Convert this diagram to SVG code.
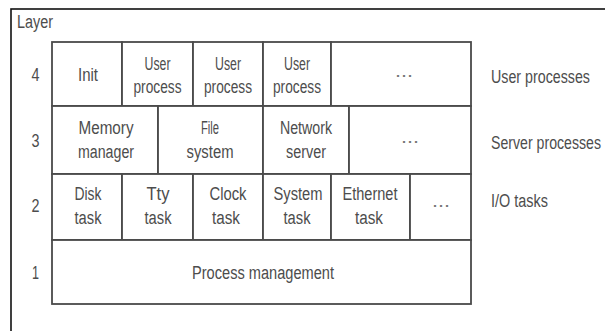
<svg xmlns="http://www.w3.org/2000/svg" width="605" height="331" viewBox="0 0 605 331">
<style>
  .frame { fill: none; stroke: #111; stroke-width: 1.6; }
  .cell { fill: #fff; stroke: #4a4a4a; stroke-width: 1.8; }
  text { font-family: "Liberation Sans Narrow", "Liberation Sans", Arial, sans-serif; font-size: 18px; fill: #4d4d4d; }
  .c { text-anchor: middle; }
  .dots { fill: #777; }
  .side { font-size: 14px; }
</style>
<rect width="605" height="331" fill="#fff"/>
<rect class="frame" x="11" y="9" width="610" height="340"/>
<text x="17" y="28" textLength="36" lengthAdjust="spacingAndGlyphs">Layer</text>

<g id="layer-numbers">
  <text class="c" x="35.5" y="81" textLength="8" lengthAdjust="spacingAndGlyphs">4</text>
  <text class="c" x="35.5" y="147" textLength="8" lengthAdjust="spacingAndGlyphs">3</text>
  <text class="c" x="35.5" y="212" textLength="8" lengthAdjust="spacingAndGlyphs">2</text>
  <text class="c" x="35.5" y="279" textLength="7" lengthAdjust="spacingAndGlyphs">1</text>
</g>

<g id="layer-names">
  <text class="side" transform="translate(491,83) scale(1,1.285)" x="0" y="0" textLength="99" lengthAdjust="spacingAndGlyphs">User processes</text>
  <text class="side" transform="translate(491,149) scale(1,1.285)" x="0" y="0" textLength="110" lengthAdjust="spacingAndGlyphs">Server processes</text>
  <text class="side" transform="translate(491,207) scale(1,1.285)" x="0" y="0" textLength="57" lengthAdjust="spacingAndGlyphs">I/O tasks</text>
</g>

<!-- Layer 4 -->
<g id="init">
  <rect class="cell" x="52" y="42" width="70" height="64"/>
  <text class="c" x="88" y="81" textLength="20" lengthAdjust="spacingAndGlyphs">Init</text>
</g>
<g id="user-process-1">
  <rect class="cell" x="122" y="42" width="71" height="64"/>
  <text class="c" x="157.5" y="70" textLength="26" lengthAdjust="spacingAndGlyphs">User</text>
  <text class="c" x="157.5" y="93" textLength="48" lengthAdjust="spacingAndGlyphs">process</text>
</g>
<g id="user-process-2">
  <rect class="cell" x="193" y="42" width="70" height="64"/>
  <text class="c" x="228" y="70" textLength="26" lengthAdjust="spacingAndGlyphs">User</text>
  <text class="c" x="228" y="93" textLength="48" lengthAdjust="spacingAndGlyphs">process</text>
</g>
<g id="user-process-3">
  <rect class="cell" x="263" y="42" width="68" height="64"/>
  <text class="c" x="297" y="70" textLength="26" lengthAdjust="spacingAndGlyphs">User</text>
  <text class="c" x="297" y="93" textLength="48" lengthAdjust="spacingAndGlyphs">process</text>
</g>
<g id="user-more">
  <rect class="cell" x="331" y="42" width="140" height="64"/>
  <text class="c dots" x="404" y="77" textLength="18" lengthAdjust="spacingAndGlyphs">...</text>
</g>

<!-- Layer 3 -->
<g id="memory-manager">
  <rect class="cell" x="52" y="106" width="106" height="68"/>
  <text class="c" x="106" y="134" textLength="55" lengthAdjust="spacingAndGlyphs">Memory</text>
  <text class="c" x="106" y="158" textLength="56" lengthAdjust="spacingAndGlyphs">manager</text>
</g>
<g id="file-system">
  <rect class="cell" x="158" y="106" width="105" height="68"/>
  <text class="c" x="210" y="134" textLength="18" lengthAdjust="spacingAndGlyphs">File</text>
  <text class="c" x="210" y="158" textLength="47" lengthAdjust="spacingAndGlyphs">system</text>
</g>
<g id="network-server">
  <rect class="cell" x="263" y="106" width="86" height="68"/>
  <text class="c" x="306" y="134" textLength="52" lengthAdjust="spacingAndGlyphs">Network</text>
  <text class="c" x="306" y="158" textLength="40" lengthAdjust="spacingAndGlyphs">server</text>
</g>
<g id="server-more">
  <rect class="cell" x="349" y="106" width="122" height="68"/>
  <text class="c dots" x="410" y="143" textLength="18" lengthAdjust="spacingAndGlyphs">...</text>
</g>

<!-- Layer 2 -->
<g id="disk-task">
  <rect class="cell" x="52" y="174" width="70" height="66"/>
  <text class="c" x="88" y="200" textLength="27" lengthAdjust="spacingAndGlyphs">Disk</text>
  <text class="c" x="88" y="224" textLength="27" lengthAdjust="spacingAndGlyphs">task</text>
</g>
<g id="tty-task">
  <rect class="cell" x="122" y="174" width="71" height="66"/>
  <text class="c" x="158" y="200" textLength="23" lengthAdjust="spacingAndGlyphs">Tty</text>
  <text class="c" x="158" y="224" textLength="27" lengthAdjust="spacingAndGlyphs">task</text>
</g>
<g id="clock-task">
  <rect class="cell" x="193" y="174" width="70" height="66"/>
  <text class="c" x="228" y="200" textLength="37" lengthAdjust="spacingAndGlyphs">Clock</text>
  <text class="c" x="226" y="224" textLength="28" lengthAdjust="spacingAndGlyphs">task</text>
</g>
<g id="system-task">
  <rect class="cell" x="263" y="174" width="68" height="66"/>
  <text class="c" x="298" y="200" textLength="49" lengthAdjust="spacingAndGlyphs">System</text>
  <text class="c" x="297" y="224" textLength="27" lengthAdjust="spacingAndGlyphs">task</text>
</g>
<g id="ethernet-task">
  <rect class="cell" x="331" y="174" width="79" height="66"/>
  <text class="c" x="370" y="200" textLength="55" lengthAdjust="spacingAndGlyphs">Ethernet</text>
  <text class="c" x="369" y="224" textLength="28" lengthAdjust="spacingAndGlyphs">task</text>
</g>
<g id="io-more">
  <rect class="cell" x="410" y="174" width="61" height="66"/>
  <text class="c dots" x="441" y="207" textLength="18" lengthAdjust="spacingAndGlyphs">...</text>
</g>

<!-- Layer 1 -->
<g id="process-management">
  <rect class="cell" x="52" y="240" width="419" height="64"/>
  <text class="c" x="263" y="279" textLength="142" lengthAdjust="spacingAndGlyphs">Process management</text>
</g>
</svg>
